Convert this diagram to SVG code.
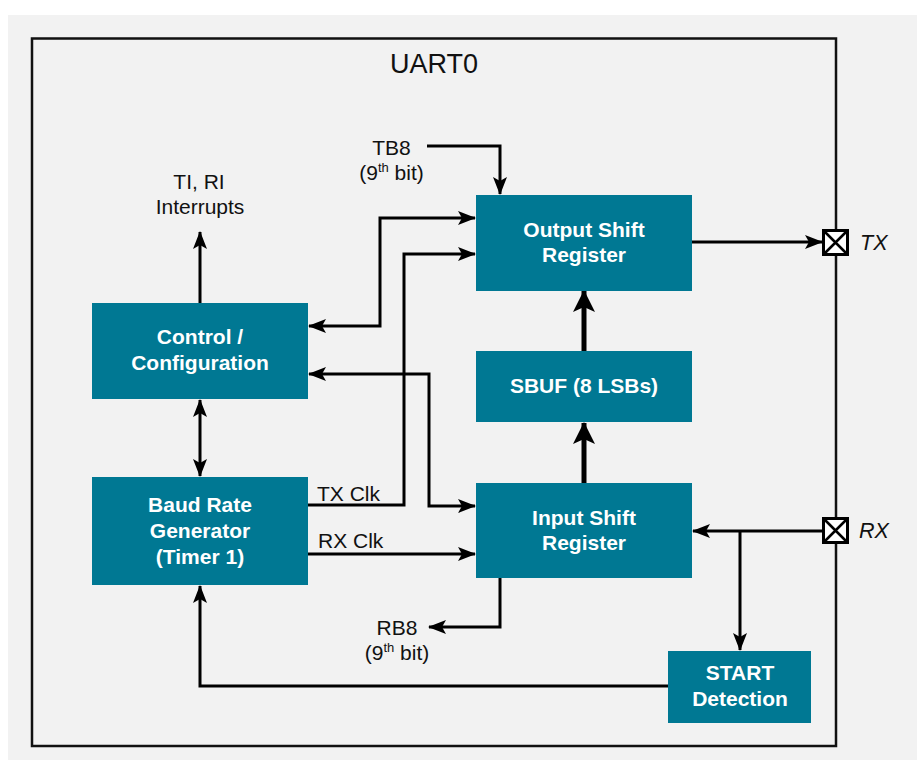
<svg xmlns="http://www.w3.org/2000/svg" width="917" height="765" viewBox="0 0 917 765">
<defs>
<style>
.box{fill:#007893}
.lbl{font-family:"Liberation Sans",Arial,sans-serif;font-weight:bold;font-size:21px;fill:#fff;text-anchor:middle}
.txt{font-family:"Liberation Sans",Arial,sans-serif;font-size:21px;fill:#111;text-anchor:middle}
.ln{fill:none;stroke:#000;stroke-width:3}
.thick{fill:none;stroke:#000;stroke-width:5}
</style>
<marker id="ah" viewBox="0 0 18 14" refX="17" refY="7" markerWidth="18" markerHeight="14" markerUnits="userSpaceOnUse" orient="auto-start-reverse">
<path d="M0,0 L18,7 L0,14 L4,7 z" fill="#000"/>
</marker>
<marker id="ahT" viewBox="0 0 22 22" refX="21" refY="11" markerWidth="22" markerHeight="22" markerUnits="userSpaceOnUse" orient="auto-start-reverse">
<path d="M0,0 L22,11 L0,22 L5,11 z" fill="#000"/>
</marker>
</defs>
<rect x="8" y="15" width="909" height="745" fill="#F2F2F2"/>
<rect x="32" y="38.5" width="804" height="707.5" fill="none" stroke="#111" stroke-width="2.5"/>
<text x="434" y="72.5" class="txt" style="font-size:27px">UART0</text>

<g id="connectors">
<path class="ln" d="M200,303 V232" marker-end="url(#ah)"/>
<path class="ln" d="M200,400 V476" marker-start="url(#ah)" marker-end="url(#ah)"/>
<path class="ln" d="M427,146 H500 V194" marker-end="url(#ah)"/>
<path class="ln" d="M309,326 H380 V218 H475" marker-start="url(#ah)" marker-end="url(#ah)"/>
<path class="ln" d="M308,505 H404 V254 H475" marker-end="url(#ah)"/>
<path class="ln" d="M309,374 H429 V506 H475" marker-start="url(#ah)" marker-end="url(#ah)"/>
<path class="ln" d="M308,554 H475" marker-end="url(#ah)"/>
<path class="ln" d="M692,242 H822" marker-end="url(#ah)"/>
<path class="ln" d="M823,531 H693" marker-end="url(#ah)"/>
<path class="ln" d="M740,531 V650" marker-end="url(#ah)"/>
<path class="ln" d="M500,578 V627 H429" marker-end="url(#ah)"/>
<path class="ln" d="M668,686 H200 V586" marker-end="url(#ah)"/>
<path class="thick" d="M584,351 V291" marker-end="url(#ahT)"/>
<path class="thick" d="M584,483 V423" marker-end="url(#ahT)"/>
</g>

<g id="tx-pin">
<rect x="823.5" y="230.5" width="24" height="24" fill="#fff" stroke="#000" stroke-width="3"/>
<path d="M823.5,230.5 L847.5,254.5 M847.5,230.5 L823.5,254.5" stroke="#000" stroke-width="2.5"/>
<text x="860" y="250" class="txt" style="text-anchor:start;font-style:italic;font-size:21.5px">TX</text>
</g>
<g id="rx-pin">
<rect x="823.5" y="518.5" width="24" height="24" fill="#fff" stroke="#000" stroke-width="3"/>
<path d="M823.5,518.5 L847.5,542.5 M847.5,518.5 L823.5,542.5" stroke="#000" stroke-width="2.5"/>
<text x="859" y="538" class="txt" style="text-anchor:start;font-style:italic;font-size:21.5px">RX</text>
</g>

<g id="output-shift">
<rect class="box" x="476" y="195" width="216" height="96"/>
<text class="lbl" x="584" y="236.5">Output Shift</text>
<text class="lbl" x="584" y="262">Register</text>
</g>
<g id="sbuf">
<rect class="box" x="476" y="351" width="216" height="71"/>
<text class="lbl" x="584" y="393">SBUF (8 LSBs)</text>
</g>
<g id="input-shift">
<rect class="box" x="476" y="483" width="216" height="95"/>
<text class="lbl" x="584" y="524.5">Input Shift</text>
<text class="lbl" x="584" y="550">Register</text>
</g>
<g id="control">
<rect class="box" x="92" y="303" width="216" height="96"/>
<text class="lbl" x="200" y="344">Control /</text>
<text class="lbl" x="200" y="370">Configuration</text>
</g>
<g id="baud">
<rect class="box" x="92" y="477" width="216" height="108"/>
<text class="lbl" x="200" y="512">Baud Rate</text>
<text class="lbl" x="200" y="538">Generator</text>
<text class="lbl" x="200" y="564">(Timer 1)</text>
</g>
<g id="start">
<rect class="box" x="668" y="651" width="143" height="72"/>
<text class="lbl" x="740" y="680">START</text>
<text class="lbl" x="740" y="706">Detection</text>
</g>

<g id="labels">
<text class="txt" x="199" y="188.5">TI, RI</text>
<text class="txt" x="200" y="213.5">Interrupts</text>
<text class="txt" x="391.5" y="155">TB8</text>
<text class="txt" x="391.5" y="180">(9<tspan dy="-8" style="font-size:13px">th</tspan><tspan dy="8"> bit)</tspan></text>
<text class="txt" x="397" y="635">RB8</text>
<text class="txt" x="397" y="660">(9<tspan dy="-8" style="font-size:13px">th</tspan><tspan dy="8"> bit)</tspan></text>
<text class="txt" x="317" y="500.5" style="text-anchor:start">TX Clk</text>
<text class="txt" x="318" y="548" style="text-anchor:start">RX Clk</text>
</g>
</svg>
